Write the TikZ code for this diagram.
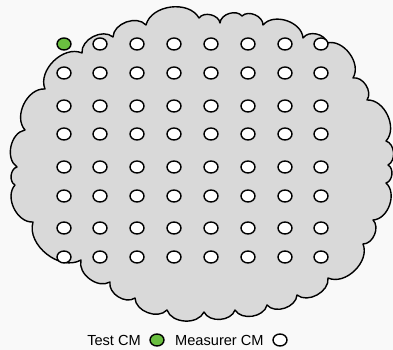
\documentclass[tikz,border=0pt]{standalone}
\usepackage{fontspec}
\setmainfont{Liberation Sans}
\usetikzlibrary{shapes.geometric}
\definecolor{bgcol}{HTML}{F9F9F9}
\definecolor{cloudgray}{HTML}{D9D9D9}
\definecolor{cmgreen}{HTML}{6ABF40}
\begin{document}
\begin{tikzpicture}[x=1pt,y=1pt,
  cmnode/.style={ellipse, draw=black, line width=1.4pt, fill=white,
    minimum width=14pt, minimum height=12pt, inner sep=0pt},
  testnode/.style={cmnode, fill=cmgreen},
  puff/.style={bend left=68},
  legendtext/.style={font=\fontsize{14.6}{17}\selectfont, inner sep=0pt}]
\fill[bgcol] (0,0) rectangle (393,350);
\useasboundingbox (0,0) rectangle (393,350);
% cloud
\draw[fill=cloudgray, line width=1.4pt, line join=round]
  (45,261) to[puff] (82,297) to[puff] (113,313) to[puff] (146,325)
  to[puff] (199,332) to[puff] (220,327) to[puff] (242,334) to[puff] (263,325)
  to[puff] (303,312) to[puff] (327,307) to[puff] (353,272) to[puff] (367,250)
  to[puff] (386,209) to[puff] (388,185) to[puff] (386,167) to[puff] (373,130)
  to[puff] (363,106) to[puff] (328,72) to[puff] (297,55) to[puff] (267,45)
  to[puff] (235,40) to[puff] (204,38) to[puff] (167,40) to[puff] (135,52)
  to[puff] (110,68) to[puff] (81,90) to[puff] (33,128) to[puff] (15,165)
  to[puff] (17,183) to[puff] (25,220) to[puff] (45,261) -- cycle;
% grid of CMs
\foreach \x [count=\i] in {64,100,137,174,211,248,285,321}{
  \foreach \y [count=\j] in {306,277,244,216,183,154,122,93}{
    \ifnum\i=1 \ifnum\j=1
      \node[testnode] (cm-\i-\j) at (\x,\y) {};
    \else
      \node[cmnode] (cm-\i-\j) at (\x,\y) {};
    \fi\else
      \node[cmnode] (cm-\i-\j) at (\x,\y) {};
    \fi
  }
}
% legend
\node[legendtext, anchor=base east] (ltest) at (141,4) {Test CM};
\node[testnode] (lgreen) at (157,10) {};
\node[legendtext, anchor=base west] (lmeas) at (175,4) {Measurer CM};
\node[cmnode] (lwhite) at (280,10) {};
\end{tikzpicture}
\end{document}
